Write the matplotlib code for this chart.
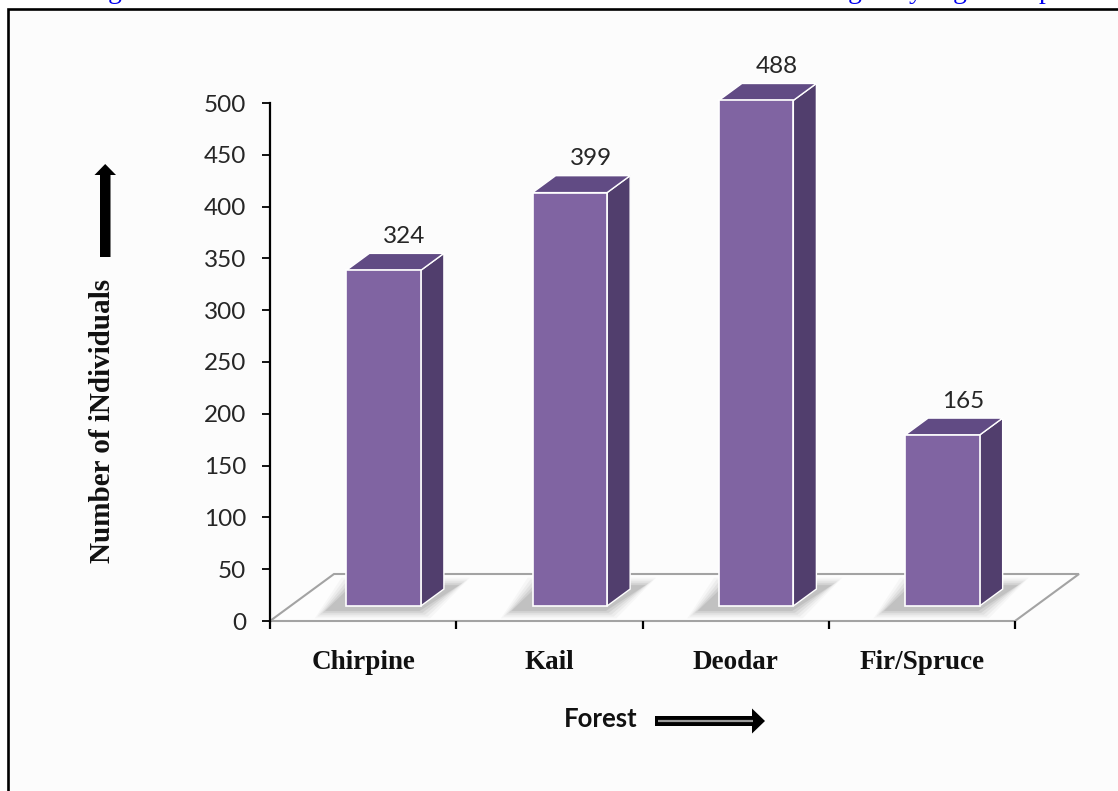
import matplotlib
matplotlib.use("Agg")
import matplotlib.pyplot as plt
from matplotlib.patches import Polygon, Rectangle

# ---- data -------------------------------------------------------------
forests = ["Chirpine", "Kail", "Deodar", "Fir/Spruce"]
individuals = [324, 399, 488, 165]
y_ticks = list(range(0, 501, 50))

# ---- figure -----------------------------------------------------------
W, H = 1118, 791
fig = plt.figure(figsize=(W / 100, H / 100), dpi=100)
fig.patch.set_facecolor("white")

# full-figure layer (pixel coordinates) for the frame, axis titles and arrows
deco = fig.add_axes([0, 0, 1, 1], zorder=0)
deco.set_xlim(0, W)
deco.set_ylim(H, 0)
deco.axis("off")
deco.add_patch(Rectangle((7.5, 8.5), W + 60, H + 60, facecolor="#fcfcfc",
                         edgecolor="black", linewidth=1.9))

# caption line running off the top edge (only descenders remain visible)
for ch, xc in [("g", 115), ("g", 855), ("y", 916), ("g", 960), ("p", 1046)]:
    deco.text(xc, -1.5, ch, color="#0000ee", fontsize=20, ha="center",
              va="baseline", family="Liberation Serif")

# y-axis title with its upward arrow
deco.text(103, 421, "Number of iNdividuals", rotation=90, ha="center",
          va="center", fontsize=21, fontweight="bold", family="Liberation Serif",
          color="#111111")
deco.add_patch(Polygon([(100, 257), (110.5, 257), (110.5, 175), (116, 175),
                        (105.2, 164), (94.5, 175), (100, 175)],
                       closed=True, facecolor="black", edgecolor="none"))

# x-axis title with its double-line arrow
deco.text(564, 727, "Forest", ha="left", va="baseline", fontsize=18.5,
          fontweight="bold", family="Lato", color="#111111")
deco.add_patch(Polygon([(655, 716), (752, 716), (752, 708.5), (765, 721),
                        (752, 733.5), (752, 726), (655, 726)],
                       closed=True, facecolor="black", edgecolor="none"))
deco.plot([658, 753], [721, 721], color="#9a9a9a", lw=1.6, solid_capstyle="butt")

# ---- chart axes -------------------------------------------------------
ax = fig.add_axes([270 / W, 1 - 621 / H, 745 / W, 518 / H], zorder=2)
ax.set_facecolor("none")
ax.set_xlim(-0.5, 3.5)
ax.set_ylim(0, 500)

# 3-D look: floor depth and bar geometry in data units
DX, DY = 64 / 186.25, 47 * 500 / 518
BAR_W = 0.40
FRONT = 0.32          # bar front plane as a fraction of floor depth
DEPTH = 0.36          # bar depth as a fraction of floor depth

floor = Polygon([(-0.5, 0), (3.5, 0), (3.5 + DX, DY), (-0.5 + DX, DY)],
                closed=True, facecolor="#fdfdfd", edgecolor="#a3a3a3",
                linewidth=1.5, clip_on=False, zorder=1)
ax.add_patch(floor)

front_c, side_c, top_c = "#8064a2", "#513e6d", "#614b84"
for i, v in enumerate(individuals):
    x0 = i - BAR_W / 2 + FRONT * DX
    x1 = x0 + BAR_W
    y0 = FRONT * DY
    y1 = y0 + v
    dx, dy = DEPTH * DX, DEPTH * DY

    # soft floor shadow, strongest close to the bar foot
    for k, a in enumerate([0.04, 0.06, 0.08, 0.10, 0.12]):
        g = (5 - k) * 0.014
        gy = (5 - k) * 1.8
        ax.add_patch(Polygon([(x0 - 0.10 - g, y0 - 3 - gy),
                              (x1 - 0.02 + g, y0 - 3 - gy),
                              (x1 + dx + 0.07 + g, y0 + dy + 2 + gy),
                              (x0 + dx - 0.08 - g, y0 + dy + 2 + gy)],
                             closed=True, facecolor="#555555", alpha=a,
                             edgecolor="none", clip_on=False, zorder=2))

    ax.add_patch(Polygon([(x1, y0), (x1 + dx, y0 + dy), (x1 + dx, y1 + dy), (x1, y1)],
                         closed=True, facecolor=side_c, edgecolor="white",
                         linewidth=1.0, clip_on=False, zorder=3))
    ax.add_patch(Polygon([(x0, y1), (x1, y1), (x1 + dx, y1 + dy), (x0 + dx, y1 + dy)],
                         closed=True, facecolor=top_c, edgecolor="white",
                         linewidth=1.0, clip_on=False, zorder=3))
    ax.add_patch(Rectangle((x0, y0), BAR_W, v, facecolor=front_c,
                           edgecolor="white", linewidth=1.2, clip_on=False,
                           zorder=4))
    ax.text((x0 + x1) / 2 + dx / 2 + 0.05, y1 + dy + 10, f"{v}",
            ha="center", va="baseline", fontsize=17.5, family="Lato",
            color="#262626", zorder=5, clip_on=False)

# axes styling
for s in ["top", "right", "bottom"]:
    ax.spines[s].set_visible(False)
ax.spines["left"].set_linewidth(1.6)
ax.spines["left"].set_color("black")

ax.set_yticks(y_ticks)
ax.set_yticklabels([str(t) for t in y_ticks], fontsize=17.5, family="Lato",
                   color="#262626")
ax.tick_params(axis="y", direction="out", length=6, width=1.3, pad=11,
               color="black")

ax.set_xticks([-0.5, 0.5, 1.5, 2.5, 3.5])
ax.set_xticklabels([])
ax.tick_params(axis="x", which="major", direction="out", length=6, width=1.6,
               color="black")
ax.set_xticks(range(len(forests)), minor=True)
ax.set_xticklabels(forests, minor=True, fontsize=19.5, fontweight="bold",
                   family="Liberation Serif", color="#111111")
ax.tick_params(axis="x", which="minor", length=0, pad=21)

fig.savefig("out.png", dpi=100, facecolor="white")
